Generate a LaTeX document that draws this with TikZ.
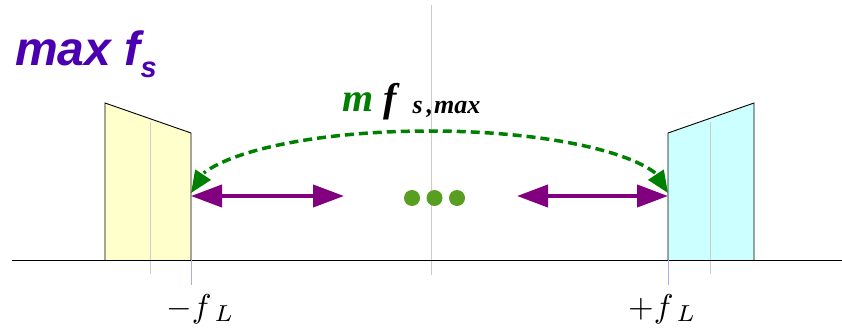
\documentclass[tikz,border=0pt]{standalone}
\usepackage{fontspec}
\setmainfont{Liberation Serif}
\newfontfamily\arialf{Liberation Sans}
\usetikzlibrary{arrows.meta,bending}
\definecolor{ttlpurple}{HTML}{4A00B0}
\definecolor{arrpurple}{HTML}{800080}
\definecolor{arcgreen}{HTML}{008000}
\definecolor{dotgreen}{HTML}{589E20}
\definecolor{boxyellow}{HTML}{FFFFCC}
\definecolor{boxcyan}{HTML}{CCFFFF}
\definecolor{guidegray}{HTML}{CCCCCC}
\definecolor{guideblue}{HTML}{AAAAEE}
\tikzset{
  spectrum/.style={draw=black, line width=0.9pt},
  guide/.style={draw=guidegray, line width=1pt},
  bguide/.style={draw=guideblue, line width=1pt},
  twoway/.style={draw=arrpurple, line width=4pt, {Triangle[length=31pt,width=22pt]}-{Triangle[length=31pt,width=22pt]}},
  arcarrow/.style={draw=arcgreen, line width=3.5pt, dash pattern=on 9pt off 5pt, {Triangle[length=22pt,width=18pt,flex]}-{Triangle[length=22pt,width=18pt,flex]}},
  dotc/.style={circle, fill=dotgreen, inner sep=0pt, minimum size=16pt},
}
\begin{document}
\begin{tikzpicture}[x=1pt,y=-1pt]
\useasboundingbox (0,0) rectangle (842,331);
% center guide
\draw[guide] (431,5) -- (431,275);
% boxes
\draw[spectrum, fill=boxyellow] (105,260) -- (105,103) -- (191,133) -- (191,260);
\draw[spectrum, fill=boxcyan] (668,260) -- (668,133) -- (754,103) -- (754,260);
\draw[guide] (150.5,122) -- (150.5,274);
\draw[guide] (710,122) -- (710,274);
% axis
\draw[black, line width=1pt] (12,260) -- (842,260);
\draw[bguide] (191,260) -- (191,285);
\draw[bguide] (668,260) -- (668,285);
% anchor coordinates
\coordinate (lb) at (191,196);
\coordinate (le) at (344,196);
\coordinate (rb) at (517,196);
\coordinate (re) at (668,196);
\coordinate (ar) at (668,193);
\draw[twoway] (lb) -- (le);
\draw[twoway] (rb) -- (re);
\draw[arcarrow] (ar) arc[start angle=0, end angle=-180, x radius=238.5, y radius=62];
% dots
\node[dotc] (d1) at (412,198) {};
\node[dotc] (d2) at (434.5,198) {};
\node[dotc] (d3) at (457,198) {};
% titles
\node[anchor=base west, inner sep=0pt, text=ttlpurple] (ttl) at (15,66)
  {\arialf\bfseries\itshape\fontsize{48}{52}\selectfont max f\raisebox{-12pt}{\fontsize{29}{31}\selectfont s}};
\node[anchor=base west, inner sep=0pt] (mf) at (342,112)
  {\bfseries\itshape\fontsize{40}{44}\selectfont\textcolor{arcgreen}{m}\hspace{10pt}f\hspace{16pt}\raisebox{-2pt}{\fontsize{26}{28}\selectfont s\hspace{4pt},\hspace{1pt}max}};
\node[anchor=base west, inner sep=0pt] (ml) at (166,317) {\scalebox{3.3}{$-f_{\hspace{2pt}L}$}};
\node[anchor=base west, inner sep=0pt] (pl) at (628,317) {\scalebox{3.3}{$+f_{\hspace{2pt}L}$}};
\end{tikzpicture}
\end{document}
